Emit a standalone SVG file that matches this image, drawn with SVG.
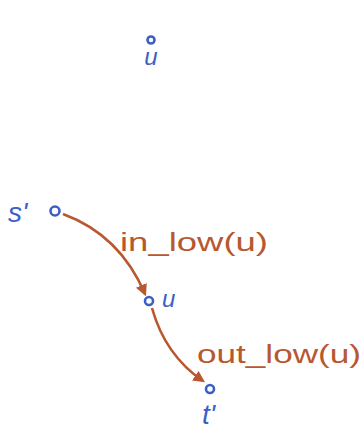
<svg xmlns="http://www.w3.org/2000/svg" width="364" height="442" viewBox="0 0 364 442">
<style>
.n{fill:none;stroke:#3b5fc6;stroke-width:2.6}
.nl{fill:#3b5fc6;font-family:"Liberation Sans",sans-serif;font-style:italic}
.e{fill:none;stroke:#b8582e;stroke-width:2.6}
.el{fill:#b8582e;font-family:"Liberation Sans",sans-serif;font-size:25px}
</style>
<defs>
<marker id="ah" viewBox="0 0 10 10" refX="8" refY="5" markerWidth="4.5" markerHeight="4.5" orient="auto">
<path d="M0,0 L10,5 L0,10 z" fill="#b8582e"/>
</marker>
</defs>
<rect width="364" height="442" fill="#fff"/>
<g id="connectors">
<path class="e" d="M63,214 Q120,235 145,294" marker-end="url(#ah)"/>
<path class="e" d="M152,308 Q165,355 203,381" marker-end="url(#ah)"/>
<text class="el" x="120" y="251" textLength="148" lengthAdjust="spacingAndGlyphs">in_low(u)</text>
<text class="el" x="197" y="363" textLength="164" lengthAdjust="spacingAndGlyphs">out_low(u)</text>
</g>
<g id="node-u-top">
<circle class="n" cx="151" cy="40" r="3.5"/>
<text class="nl" x="151" y="65" font-size="24" text-anchor="middle">u</text>
</g>
<g id="node-s">
<circle class="n" cx="55" cy="211" r="4.5"/>
<text class="nl" x="8" y="222" font-size="28">s'</text>
</g>
<g id="node-u">
<circle class="n" cx="149" cy="301" r="4"/>
<text class="nl" x="162" y="307" font-size="24">u</text>
</g>
<g id="node-t">
<circle class="n" cx="210" cy="389" r="4"/>
<text class="nl" x="202" y="424" font-size="28">t'</text>
</g>
</svg>
